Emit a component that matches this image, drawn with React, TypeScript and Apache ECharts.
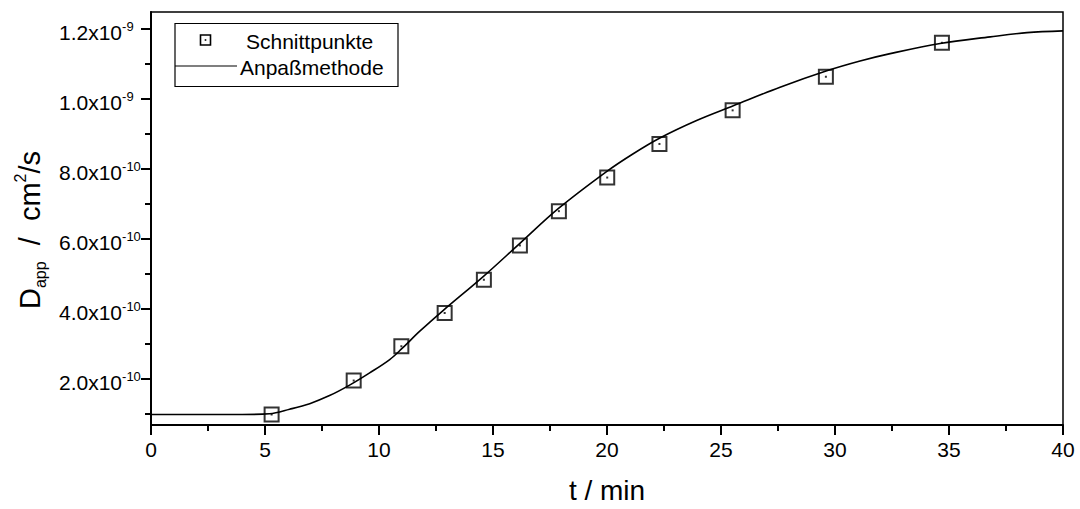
import React, { useEffect, useRef } from "react";
import * as echarts from "echarts";

const FONT = "'Liberation Sans', Arial, Helvetica, sans-serif";

// Values in units of 1e-10 cm^2/s
const pointTimes = [5.29, 8.89, 10.98, 12.88, 14.6, 16.18, 17.89, 20.01, 22.3, 25.51, 29.6, 34.69];
const pointValues = [0.98, 1.95, 2.93, 3.88, 4.83, 5.81, 6.79, 7.75, 8.71, 9.67, 10.63, 11.6];

const fitTimes = [0, 2, 4, 5.2, 6.08, 6.96, 7.83, 8.71, 9.59, 10.47, 11.0, 11.79, 12.81, 14.57, 16.18, 17.86, 19.98, 21.15, 22.32, 23.93, 25.54, 27.59, 29.64, 31.1, 32.42, 34.61, 36.81, 38.42, 40];
const fitValues = [0.98, 0.98, 0.98, 1.0, 1.13, 1.29, 1.52, 1.82, 2.17, 2.55, 2.86, 3.36, 3.95, 4.92, 5.87, 6.86, 7.92, 8.43, 8.88, 9.38, 9.8, 10.33, 10.8, 11.08, 11.29, 11.58, 11.77, 11.89, 11.94];

const yMajorTicks = [2, 4, 6, 8, 10, 12];
const yMinorTicks = [1, 3, 5, 7, 9, 11];
const Y_MIN = 0.68;
const Y_MAX = 12.48;

const legendNames = ["Schnittpunkte", "Anpaßmethode"];

export default function App() {
  const ref = useRef<HTMLDivElement>(null);
  useEffect(() => {
    if (!ref.current) return;
    const chart = echarts.init(ref.current, null, { renderer: "svg" });
    const black = "#000";
    const option: any = {
      animation: false,
      backgroundColor: "#fff",
      textStyle: { fontFamily: FONT, color: black },
      grid: {
        left: 151,
        top: 12,
        width: 912,
        height: 415,
        show: true,
        borderColor: black,
        borderWidth: 1.5,
        backgroundColor: "transparent",
      },
      xAxis: [
        {
          type: "value",
          min: 0,
          max: 40,
          interval: 5,
          axisLine: { show: true, onZero: false, lineStyle: { color: black, width: 2 } },
          axisTick: { show: true, length: 10, lineStyle: { color: black, width: 2 } },
          minorTick: { show: true, splitNumber: 2, length: 6, lineStyle: { color: black, width: 2 } },
          axisLabel: { fontSize: 21, color: black, margin: 14, fontFamily: FONT },
          splitLine: { show: false },
          name: "t / min",
          nameLocation: "middle",
          nameGap: 51,
          nameTextStyle: { fontSize: 28, color: black, fontFamily: FONT },
        },
      ],
      yAxis: [
        {
          type: "value",
          position: "left",
          min: Y_MIN,
          max: Y_MAX,
          axisLine: { show: true, onZero: false, lineStyle: { color: black, width: 2 } },
          axisTick: { show: true, length: 10, customValues: yMajorTicks, lineStyle: { color: black, width: 2 } },
          axisLabel: {
            customValues: yMajorTicks,
            align: "left",
            margin: 92,
            padding: [8, 0, 0, 0],
            formatter: (v: number) => {
              const exp = v >= 10 ? -9 : -10;
              const m = v >= 10 ? v / 10 : v;
              return `{b|${m.toFixed(1)}x10}{s|${exp}}`;
            },
            rich: {
              b: { fontSize: 21, lineHeight: 26, fontFamily: FONT, color: black },
              s: { fontSize: 13, lineHeight: 13, verticalAlign: "top", fontFamily: FONT, color: black },
            },
          },
          splitLine: { show: false },
        },
        {
          type: "value",
          position: "left",
          min: Y_MIN,
          max: Y_MAX,
          axisLine: { show: false },
          axisTick: { show: true, length: 6, customValues: yMinorTicks, lineStyle: { color: black, width: 2 } },
          axisLabel: { show: false },
          splitLine: { show: false },
        },
      ],
      series: [
        {
          name: legendNames[1],
          type: "line",
          data: fitTimes.map((t, i) => [t, fitValues[i]]),
          symbol: "none",
          showSymbol: false,
          smooth: 0.35,
          lineStyle: { color: black, width: 1.6 },
          z: 2,
        },
        {
          name: legendNames[0],
          type: "scatter",
          data: pointTimes.map((t, i) => [t, pointValues[i]]),
          symbol: "rect",
          symbolSize: 14,
          itemStyle: { color: "transparent", borderColor: black, borderWidth: 2 },
          z: 3,
        },
        {
          name: legendNames[0] + " centre",
          type: "scatter",
          data: pointTimes.map((t, i) => [t, pointValues[i]]),
          symbol: "rect",
          symbolSize: 2,
          itemStyle: { color: black },
          z: 4,
        },
      ],
      graphic: [
        {
          type: "text",
          x: 30,
          y: 230,
          rotation: Math.PI / 2,
          z: 10,
          style: {
            text: "{a|D}{sub|app}{a|  /  cm}{sup|2}{a|/s}",
            align: "center",
            verticalAlign: "middle",
            fill: black,
            rich: {
              a: { fontSize: 29, lineHeight: 36, fontFamily: FONT, fill: black },
              sub: { fontSize: 16, lineHeight: 16, verticalAlign: "bottom", fontFamily: FONT, fill: black },
              sup: { fontSize: 16, lineHeight: 16, verticalAlign: "top", fontFamily: FONT, fill: black },
            },
          },
        },
        {
          type: "group",
          z: 10,
          children: [
            {
              type: "rect",
              shape: { x: 175, y: 23.5, width: 223, height: 63 },
              style: { fill: "#fff", stroke: black, lineWidth: 1.2 },
            },
            {
              type: "rect",
              shape: { x: 200.5, y: 35, width: 10, height: 10 },
              style: { fill: "none", stroke: black, lineWidth: 1.6 },
            },
            {
              type: "rect",
              shape: { x: 204.7, y: 39.2, width: 1.6, height: 1.6 },
              style: { fill: black },
            },
            {
              type: "line",
              shape: { x1: 175, y1: 66, x2: 237, y2: 66 },
              style: { stroke: black, lineWidth: 1.2 },
            },
            {
              type: "text",
              x: 246,
              y: 41,
              style: { text: legendNames[0], fontSize: 21, fontFamily: FONT, fill: black, verticalAlign: "middle", align: "left" },
            },
            {
              type: "text",
              x: 240,
              y: 67,
              style: { text: legendNames[1], fontSize: 21, fontFamily: FONT, fill: black, verticalAlign: "middle", align: "left" },
            },
          ],
        },
      ],
    };
    chart.setOption(option);
    return () => chart.dispose();
  }, []);
  return (
    <div
      ref={ref}
      style={{ position: "fixed", left: 0, top: 0, width: 1080, height: 509, background: "#fff" }}
    />
  );
}
